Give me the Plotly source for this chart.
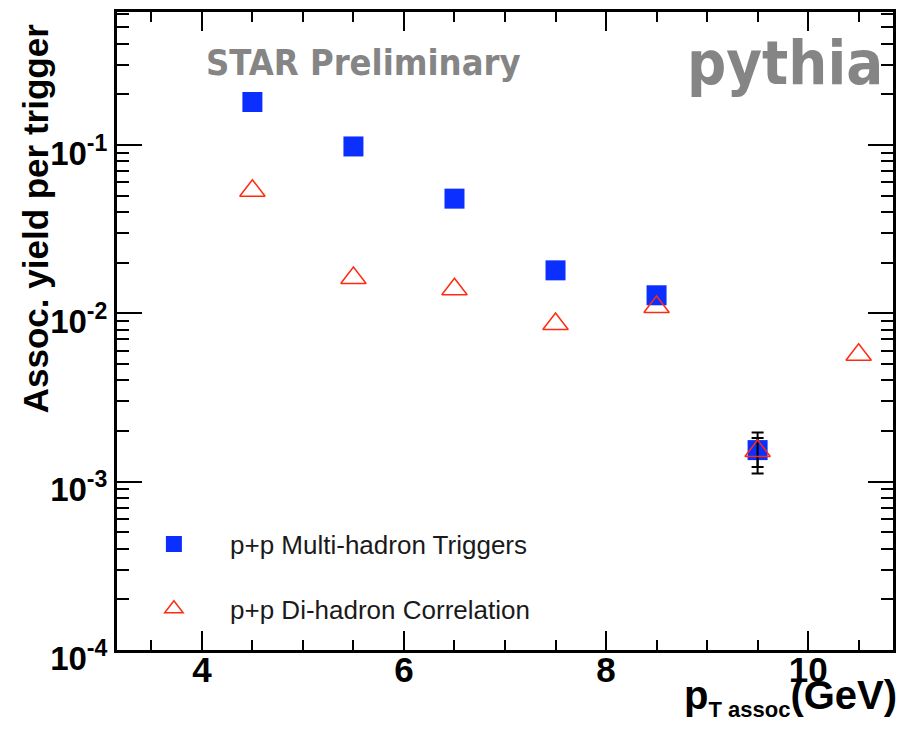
import numpy as np
import plotly.graph_objects as go

# data
pt_multi = [4.5, 5.5, 6.5, 7.5, 8.5, 9.5]
yield_multi = [0.180, 0.098, 0.048, 0.018, 0.0128, 0.00154]
err_multi = np.array([np.nan, np.nan, np.nan, np.nan, np.nan, 0.00042])

pt_di = [4.5, 5.5, 6.5, 7.5, 8.5, 9.5, 10.5]
yield_di = [0.0535, 0.0162, 0.0139, 0.00865, 0.0109, 0.00152, 0.00568]
err_di = np.array([np.nan, np.nan, np.nan, np.nan, np.nan, 0.0003, np.nan])

ytick_vals = [1e-4, 1e-3, 1e-2, 1e-1]
ytick_text = ["10<sup>-4</sup>", "10<sup>-3</sup>", "10<sup>-2</sup>", "10<sup>-1</sup>"]
xtick_vals = [4, 6, 8, 10]

fig = go.Figure()
fig.add_trace(go.Scatter(
    x=pt_multi, y=yield_multi, mode="markers",
    name="\u00a0\u00a0\u00a0\u00a0\u00a0p+p Multi-hadron Triggers",
    marker=dict(symbol="square", size=20, color="#0a2fff", line=dict(width=0)),
    error_y=dict(type="data", array=err_multi, color="black", thickness=2, width=6),
    legendgroup="a",
))
fig.add_trace(go.Scatter(
    x=pt_di, y=yield_di, mode="markers",
    name="\u00a0\u00a0\u00a0\u00a0\u00a0p+p Di-hadron Correlation",
    marker=dict(symbol="triangle-up-open", size=22, color="#ff2a10", line=dict(width=1.5)),
    error_y=dict(type="data", array=err_di, color="black", thickness=2, width=6),
    legendgroup="b",
))

axis_common = dict(showline=True, linecolor="black", linewidth=3, mirror="allticks",
                   ticks="inside", tickcolor="black", showgrid=False, zeroline=False)

fig.update_xaxes(range=[3.16, 10.84], tickvals=xtick_vals, ticklen=19, tickwidth=2,
                 ticklabelstandoff=-13,
                 tickfont=dict(family="Liberation Sans", size=35, color="black", weight="bold"),
                 minor=dict(ticks="inside", dtick=0.5, ticklen=10, tickwidth=2, tickcolor="black", showgrid=False),
                 **axis_common)
fig.update_yaxes(type="log", range=[-4, -0.21], tickvals=ytick_vals, ticktext=ytick_text,
                 ticklen=25, tickwidth=2, ticklabelshift=8,
                 tickfont=dict(family="Liberation Sans", size=33, color="black", weight="bold"),
                 minor=dict(ticks="inside", tickvals=[m * 10.0 ** e for e in range(-4, 0) for m in range(2, 10)],
                            ticklen=12, tickwidth=2, tickcolor="black", showgrid=False),
                 **axis_common)

fig.add_annotation(text="Assoc. yield per trigger", xref="paper", yref="paper",
                   x=(35 - 117) / 778, y=(650 - 217) / 641, xanchor="center", yanchor="middle",
                   textangle=-90, showarrow=False,
                   font=dict(family="Liberation Sans", size=35, color="black", weight="bold"))
fig.add_annotation(text="p<sub><span style='font-size:22px'>T assoc</span></sub>(GeV)",
                   xref="paper", yref="paper",
                   x=1.0, y=0, xanchor="right", yanchor="top", xshift=6, yshift=-21, showarrow=False,
                   font=dict(family="Liberation Sans", size=40, color="black", weight="bold"))
fig.add_annotation(text="STAR Preliminary", xref="paper", yref="paper",
                   x=(204 - 117) / 778, y=(650 - 60) / 641, xanchor="left", yanchor="middle",
                   showarrow=False,
                   font=dict(family="DejaVu Sans Condensed", size=36,
                             color="#858585", weight="bold"))
fig.add_annotation(text="pythia", xref="paper", yref="paper",
                   x=(887 - 117) / 778, y=(650 - 60) / 641, xanchor="right", yanchor="middle",
                   showarrow=False,
                   font=dict(family="DejaVu Sans Condensed", size=61,
                             color="#858585", weight="bold"))

fig.update_layout(
    width=905, height=735,
    margin=dict(l=117, r=10, t=9, b=85),
    paper_bgcolor="white", plot_bgcolor="white",
    showlegend=True,
    legend=dict(x=(154 - 117) / 778, y=(650 - 520) / 641, xanchor="left", yanchor="top",
                bgcolor="rgba(0,0,0,0)", traceorder="grouped", tracegroupgap=28,
                font=dict(family="Liberation Sans", size=26, color="#1a1a1a")),
)

fig.write_html("out.html")
